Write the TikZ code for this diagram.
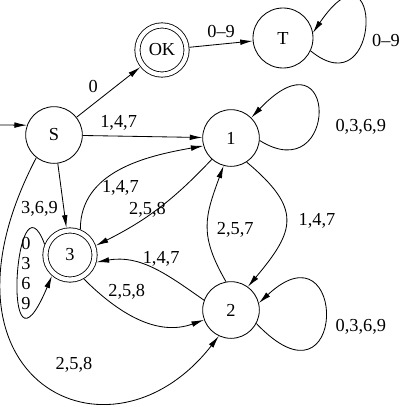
\documentclass[tikz,border=0pt]{standalone}
\usepackage{fontspec}
\setmainfont{Liberation Serif}
\usetikzlibrary{arrows.meta,shapes}
\tikzstyle{state}=[circle,draw,minimum size=34pt,inner sep=0pt]
\tikzstyle{accept}=[circle,draw,double,double distance=2.6pt,minimum size=29.5pt,inner sep=0pt,outer sep=1.8pt]
\tikzstyle{trans}=[draw,->,>={Latex[length=7.5pt,width=3.4pt]}]

\begin{document}
\begin{tikzpicture}[x=0.6pt,y=-0.6pt,line width=0.5pt,font=\fontsize{11}{12}\selectfont]
      \useasboundingbox (0,0) rectangle (405,407);
      \node[state] (s) at (54,135) {S};
      \node[accept] (ok) at (162,50) {OK};
      \node[state,minimum size=36pt] (t) at (283,38) {T};
      \node[state] (one) at (231,138) {1};
      \node[state] (two) at (231,310) {2};
      \node[accept] (three) at (70,255) {3};
      \coordinate (start) at (0,125);
      \node[align=center] (lbl3) at (26,273) {0\\3\\6\\9};
      \draw[trans] (start) -- (s.160);
      \draw[trans] (s) to node[pos=.4,above left=-1pt] {0} (ok);
      \draw[trans] (ok) to node[above] {0--9} (t);
      \draw[trans] (t.-25) .. controls (383,110) and (383,-70) .. node[pos=.4,right=2pt] {0--9} (t.10);
      \draw[trans] (s) to node[pos=.3,above] {1,4,7} (one);
      \draw[trans] (s) to node[pos=.7,left] {3,6,9} (three);
      \draw[trans] (s.-128) .. controls (-80,380) and (110,476) .. node[pos=.6,above=4mm] {2,5,8} (two.-115);
      \draw[trans] (one.-5) .. controls (339,190) and (339,25) .. node[pos=.4,right=8pt] {0,3,6,9} (one.45);
      \draw[trans] (one.-132) to[bend left=10] node[pos=.45,below left=-5pt] {2,5,8} (three.20);
      \draw[trans] (one.-57) to[out=-40,in=50,looseness=1.5] node[right=4pt] {1,4,7} (two.54);
      \draw[trans] (two.100) to[out=120,in=-110,looseness=1.2] node[pos=.45,right=2pt] {2,5,7} (one.-105);
      \draw[trans] (two.-28) .. controls (348,420) and (348,220) .. node[pos=.45,right=3pt] {0,3,6,9} (two.14);
      \draw[trans] (two.160) to[out=145,in=10] node[pos=.42,above] {1,4,7} (three.-15);
      \draw[trans] (three.68) to[out=90,in=190] node[pos=.3,right] {1,4,7} (one.196);
      \draw[trans] (three.-60) to[out=-45,in=200] node[pos=.22,above right=-3pt] {2,5,8} (two.-160);
      \draw[trans] (three.157) .. controls (15,165) and (0,400) .. (three.-131);
\end{tikzpicture}
\end{document}
